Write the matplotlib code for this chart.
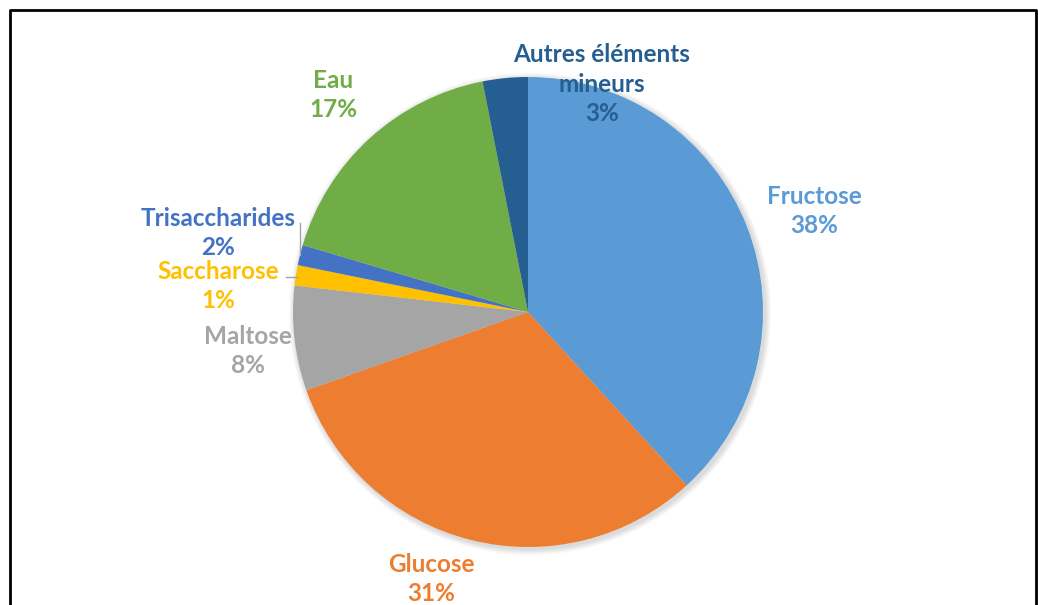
"""
Composition du miel - camembert
"""
import matplotlib.pyplot as plt
from matplotlib.patches import Circle

H = 605  # hauteur en pixels, pour passer des coordonnees image aux coordonnees du graphe

categories = ['Fructose', 'Glucose', 'Maltose', 'Saccharose', 'Trisaccharides', 'Eau',
              'Autres éléments\nmineurs']
valeurs = [38.2, 31.4, 7.2, 1.4, 1.4, 17.3, 3.1]
pourcentages = ['38%', '31%', '8%', '1%', '2%', '17%', '3%']
couleurs = ['#5B9BD5', '#ED7D31', '#A5A5A5', '#FFC000', '#4472C4', '#70AD47', '#255E91']

# position (x, y en pixels image) du centre de chaque etiquette
pos_etiquettes = [(814, 211), (431, 579), (248, 351), (218, 286), (218, 233), (333, 95), (602, 84)]

plt.rcParams['font.family'] = ['Lato', 'DejaVu Sans']

fig = plt.figure(figsize=(10.38, 6.05), dpi=100)
ax = fig.add_axes([0, 0, 1, 1])

cx, cy, r = 528, 312, 235

# ombre legere autour du disque
for k in range(6):
    ax.add_patch(Circle((cx + 2, H - cy - 2), r + 1 + k, color='black', alpha=0.025, lw=0, zorder=0))

ax.pie(valeurs, colors=couleurs, startangle=90, counterclock=False,
       center=(cx, H - cy), radius=r, wedgeprops=dict(linewidth=0, zorder=1))

for cat, pct, col, (x, y) in zip(categories, pourcentages, couleurs, pos_etiquettes):
    ax.text(x, H - y, cat + '\n' + pct, color=col, fontsize=17.5, fontweight='bold',
            ha='center', va='center', linespacing=1.35, zorder=3)

# traits de rappel
ax.plot([300, 300], [H - 223, H - 255], color='#A5A5A5', lw=1)
ax.plot([286, 297], [H - 277, H - 277], color='#A5A5A5', lw=1)

# cadre
ax.plot([10, 10, 1036, 1036], [0, H - 10, H - 10, 0], color='black', lw=2, zorder=4)

ax.set_xlim(0, 1038)
ax.set_ylim(0, H)
ax.set_aspect('equal')
ax.axis('off')

plt.savefig('out.png', dpi=100)
